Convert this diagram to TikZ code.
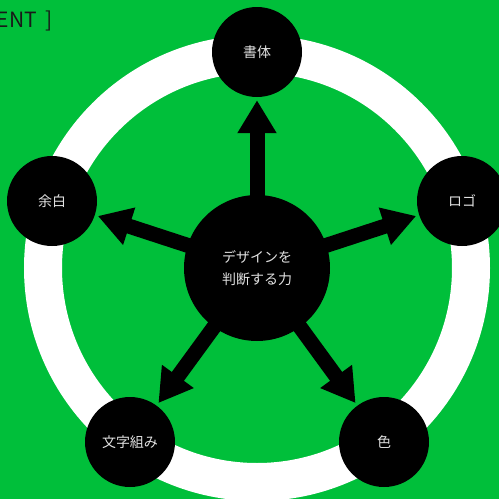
\documentclass[tikz,border=0pt]{standalone}
\usepackage{fontspec}
\setmainfont{Noto Sans CJK JP}
\usetikzlibrary{arrows.meta,backgrounds}
\definecolor{bggreen}{RGB}{0,191,58}
\definecolor{txtgray}{RGB}{225,225,225}
\tikzset{
  outer/.style={circle, fill=black, minimum size=90pt, inner sep=0pt,
    text=txtgray, font=\fontsize{14}{16}\selectfont},
  centre/.style={circle, fill=black, minimum size=146pt, inner sep=0pt,
    text=txtgray, align=center, font=\fontsize{14}{22}\selectfont},
  arr/.style={line width=15pt, draw=black,
    -{Triangle[width=37pt,length=33pt]}, shorten >=3pt},
}
\begin{document}
\begin{tikzpicture}[x=1pt,y=-1pt]
\useasboundingbox (0,0) rectangle (499,499);
\node[centre] (c) at (257,268) {デザインを\\判断する力};
\node[outer] (n1) at (257,52) {書体};
\node[outer] (n2) at (462,201) {ロゴ};
\node[outer] (n3) at (384,442) {色};
\node[outer] (n4) at (130,442) {文字組み};
\node[outer] (n5) at (52,201) {余白};
\node[anchor=base east, text=black!90, font=\fontsize{21}{24}\selectfont, inner sep=0pt] (lbl) at (53,27) {[ ELEMENT\hspace{4pt} ]};
\begin{scope}[on background layer]
  \fill[bggreen] (0,0) rectangle (499,499);
  \draw[white, line width=38pt] (257,268) circle[radius=214pt];
  \foreach \n in {n1,n2,n3,n4,n5}
    \draw[arr] (c.center) -- (\n);
\end{scope}
\end{tikzpicture}
\end{document}
